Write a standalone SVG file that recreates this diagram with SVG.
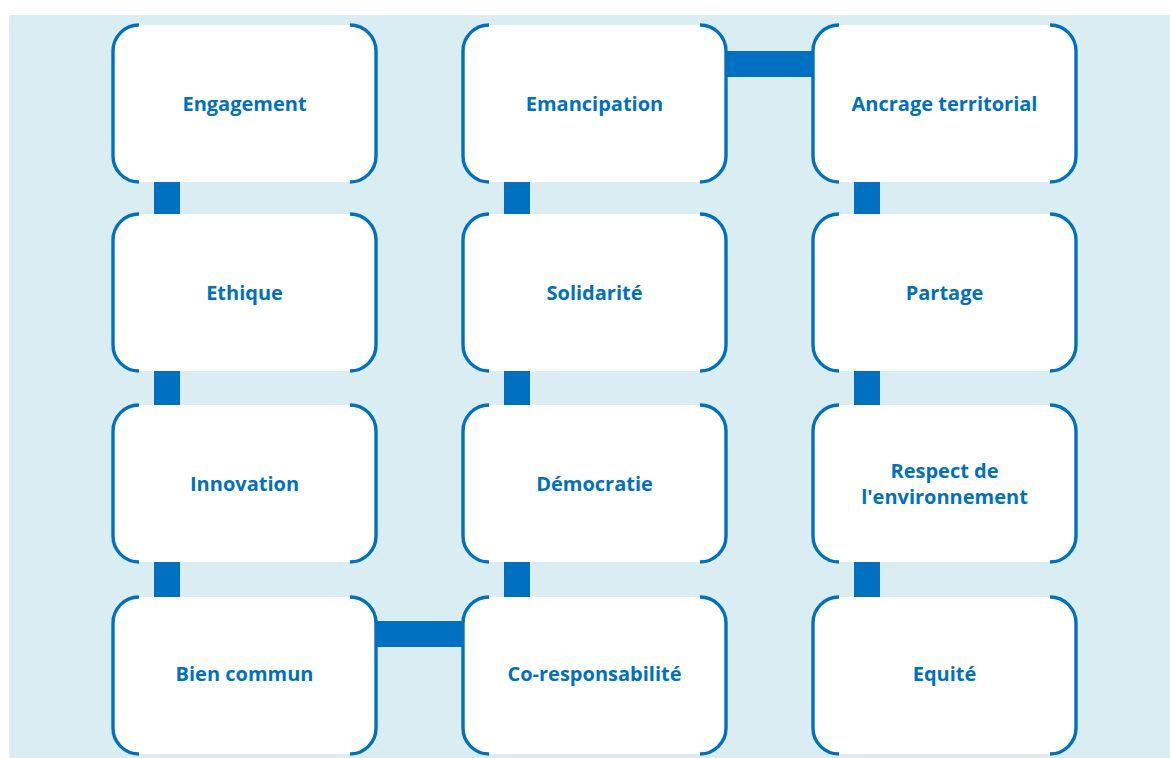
<svg xmlns="http://www.w3.org/2000/svg" width="1170" height="758" viewBox="0 0 1170 758">
<style>
.bg{fill:#DAEDF3}
.box{fill:#FFFFFF}
.edge{fill:none;stroke:#0070C0;stroke-width:3.4}
.bar{fill:#0070C0}
.lbl{font-family:"Open Sans","Liberation Sans",sans-serif;font-weight:bold;font-size:20px;fill:#0070C0;text-anchor:middle}
</style>
<defs>
<path id="sides" d="M26,0 A26,26 0 0 0 0,26 L0,131 A26,26 0 0 0 26,157 M237,0 A26,26 0 0 1 263,26 L263,131 A26,26 0 0 1 237,157"/>
</defs>
<rect class="bg" x="9" y="15" width="1161" height="743"/>
<g id="connectors">
<rect class="bar" x="154" y="180" width="26" height="36"/>
<rect class="bar" x="154" y="369" width="26" height="38"/>
<rect class="bar" x="154" y="560" width="26" height="39"/>
<rect class="bar" x="504" y="180" width="26" height="36"/>
<rect class="bar" x="504" y="369" width="26" height="38"/>
<rect class="bar" x="504" y="560" width="26" height="39"/>
<rect class="bar" x="854" y="180" width="26" height="36"/>
<rect class="bar" x="854" y="369" width="26" height="38"/>
<rect class="bar" x="854" y="560" width="26" height="39"/>
<rect class="bar" x="725" y="51" width="90" height="26"/>
<rect class="bar" x="374" y="621" width="91" height="26"/>
</g>
<g id="n-engagement" transform="translate(113,25)"><rect class="box" width="263" height="157" rx="26"/><use href="#sides" class="edge"/><text class="lbl" x="131.5" y="85.5">Engagement</text></g>
<g id="n-emancipation" transform="translate(463,25)"><rect class="box" width="263" height="157" rx="26"/><use href="#sides" class="edge"/><text class="lbl" x="131.5" y="85.5">Emancipation</text></g>
<g id="n-ancrage" transform="translate(813,25)"><rect class="box" width="263" height="157" rx="26"/><use href="#sides" class="edge"/><text class="lbl" x="131.5" y="85.5">Ancrage territorial</text></g>
<g id="n-ethique" transform="translate(113,214)"><rect class="box" width="263" height="157" rx="26"/><use href="#sides" class="edge"/><text class="lbl" x="131.5" y="85.5">Ethique</text></g>
<g id="n-solidarite" transform="translate(463,214)"><rect class="box" width="263" height="157" rx="26"/><use href="#sides" class="edge"/><text class="lbl" x="131.5" y="85.5">Solidarité</text></g>
<g id="n-partage" transform="translate(813,214)"><rect class="box" width="263" height="157" rx="26"/><use href="#sides" class="edge"/><text class="lbl" x="131.5" y="85.5">Partage</text></g>
<g id="n-innovation" transform="translate(113,405)"><rect class="box" width="263" height="157" rx="26"/><use href="#sides" class="edge"/><text class="lbl" x="131.5" y="85.5">Innovation</text></g>
<g id="n-democratie" transform="translate(463,405)"><rect class="box" width="263" height="157" rx="26"/><use href="#sides" class="edge"/><text class="lbl" x="131.5" y="85.5">Démocratie</text></g>
<g id="n-respect" transform="translate(813,405)"><rect class="box" width="263" height="157" rx="26"/><use href="#sides" class="edge"/><text class="lbl" x="131.5" y="73">Respect de</text><text class="lbl" x="131.5" y="99">l'environnement</text></g>
<g id="n-bien-commun" transform="translate(113,597)"><rect class="box" width="263" height="157" rx="26"/><use href="#sides" class="edge"/><text class="lbl" x="131.5" y="83.5">Bien commun</text></g>
<g id="n-coresp" transform="translate(463,597)"><rect class="box" width="263" height="157" rx="26"/><use href="#sides" class="edge"/><text class="lbl" x="131.5" y="83.5">Co-responsabilité</text></g>
<g id="n-equite" transform="translate(813,597)"><rect class="box" width="263" height="157" rx="26"/><use href="#sides" class="edge"/><text class="lbl" x="131.5" y="83.5">Equité</text></g>
</svg>
